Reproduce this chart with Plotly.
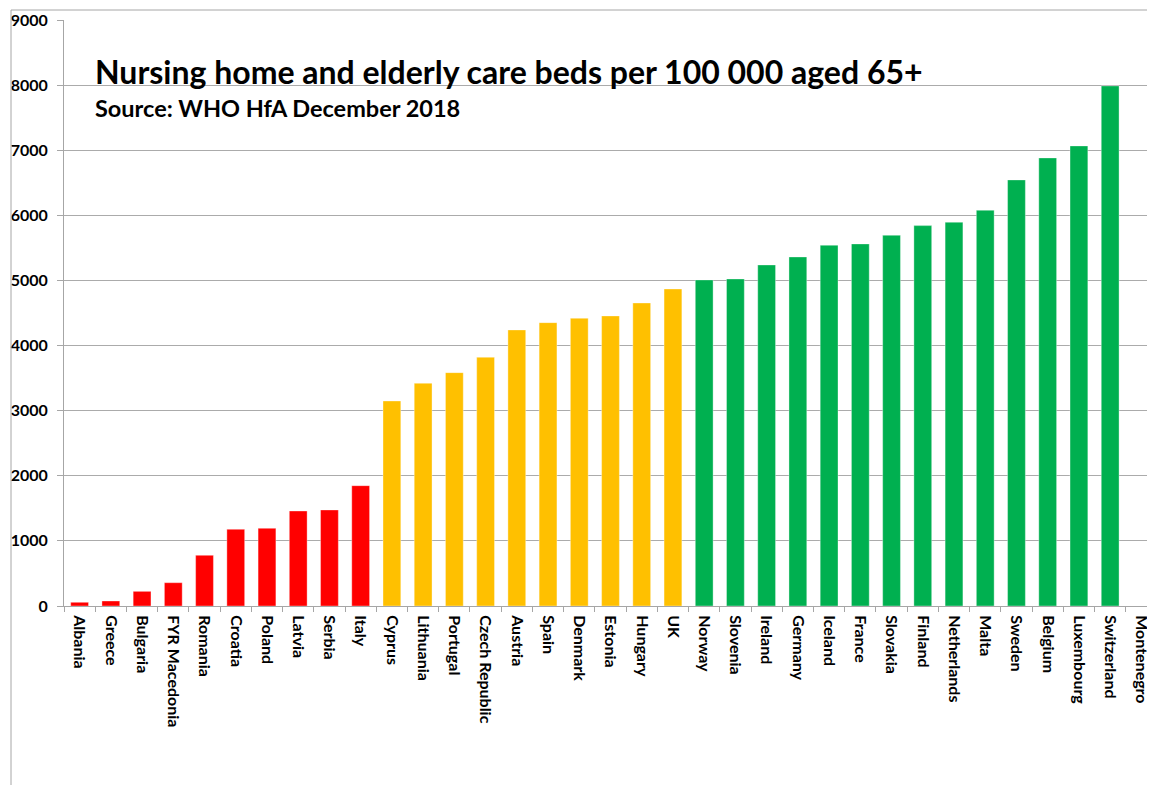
import plotly.graph_objects as go

countries = ["Albania", "Greece", "Bulgaria", "FYR Macedonia", "Romania", "Croatia", "Poland",
             "Latvia", "Serbia", "Italy", "Cyprus", "Lithuania", "Portugal", "Czech Republic",
             "Austria", "Spain", "Denmark", "Estonia", "Hungary", "UK", "Norway", "Slovenia",
             "Ireland", "Germany", "Iceland", "France", "Slovakia", "Finland", "Netherlands",
             "Malta", "Sweden", "Belgium", "Luxembourg", "Switzerland", "Montenegro"]
beds = [57, 77, 225, 358, 779, 1178, 1193, 1459, 1475, 1848, 3149, 3421, 3584, 3820,
        4240, 4352, 4419, 4455, 4654, 4869, 5008, 5023, 5238, 5361, 5541, 5561, 5694,
        5842, 5894, 6078, 6544, 6882, 7066, 7988, None]
groups = ["low"] * 10 + ["mid"] * 10 + ["high"] * 14 + ["high"]
group_colors = {"low": "#FF0000", "mid": "#FFC000", "high": "#00B050"}
y_ticks = [0, 1000, 2000, 3000, 4000, 5000, 6000, 7000, 8000, 9000]

title_text = "Nursing home and elderly care beds per 100 000 aged 65+"
subtitle_text = "Source: WHO HfA December 2018"

OFF = 8  # page body margin
W, H = 1155, 785
# plot area in page coords: x 64..1157, y 20..606
L = 64 - OFF
R = W - (1157 - OFF)
T = 20 - OFF
B = H - (606 - OFF)
pw, ph = W - L - R, H - T - B

fig = go.Figure()
fig.add_trace(go.Bar(
    x=countries, y=beds,
    marker=dict(color=[group_colors[g] for g in groups],
                line=dict(color="rgba(255,255,255,0.35)", width=1)),
    width=0.57,
    hoverinfo="x+y",
))

font_family = "Lato, Liberation Sans, sans-serif"

fig.update_layout(
    width=W, height=H,
    margin=dict(l=L, r=R, t=T, b=B, autoexpand=False),
    paper_bgcolor="white", plot_bgcolor="white",
    showlegend=False,
    font=dict(family=font_family, color="black"),
    xaxis=dict(
        type="category", range=[-0.5, len(countries) - 0.5],
        tickangle=90, tickson="boundaries", ticks="outside", ticklen=5,
        tickcolor="#a6a6a6", showline=True, linecolor="#a6a6a6", linewidth=1,
        tickfont=dict(size=16, family=font_family, weight="bold"),
        ticklabelstandoff=5,
        showgrid=False,
    ),
    yaxis=dict(
        range=[0, 9000], tickvals=y_ticks, ticks="outside", ticklen=6,
        tickcolor="#a6a6a6", showline=True, linecolor="#a6a6a6", linewidth=1,
        gridcolor="#ababab", gridwidth=1, zeroline=False,
        tickfont=dict(size=16, family=font_family, weight="bold"),
        ticklabelstandoff=6,
    ),
)

def px_x(page_x):
    return (page_x - OFF - L) / pw

def px_y(page_y):
    return (H - B - (page_y - OFF)) / ph

fig.add_annotation(text=title_text, xref="paper", yref="paper",
                   x=px_x(93), y=px_y(72), xanchor="left", yanchor="middle",
                   showarrow=False,
                   font=dict(size=32, family=font_family, weight="bold", color="black"))
fig.add_annotation(text=subtitle_text, xref="paper", yref="paper",
                   x=px_x(93), y=px_y(108), xanchor="left", yanchor="middle",
                   showarrow=False,
                   font=dict(size=23.5, family=font_family, weight="bold", color="black"))

# outer chart border
fig.add_shape(type="line", xref="paper", yref="paper",
              x0=px_x(11), x1=px_x(11), y0=px_y(10), y1=px_y(800),
              line=dict(color="#a6a6a6", width=1))
fig.add_shape(type="line", xref="paper", yref="paper",
              x0=px_x(11), x1=px_x(1170), y0=px_y(10), y1=px_y(10),
              line=dict(color="#a6a6a6", width=1))

fig.write_html("out.html")
